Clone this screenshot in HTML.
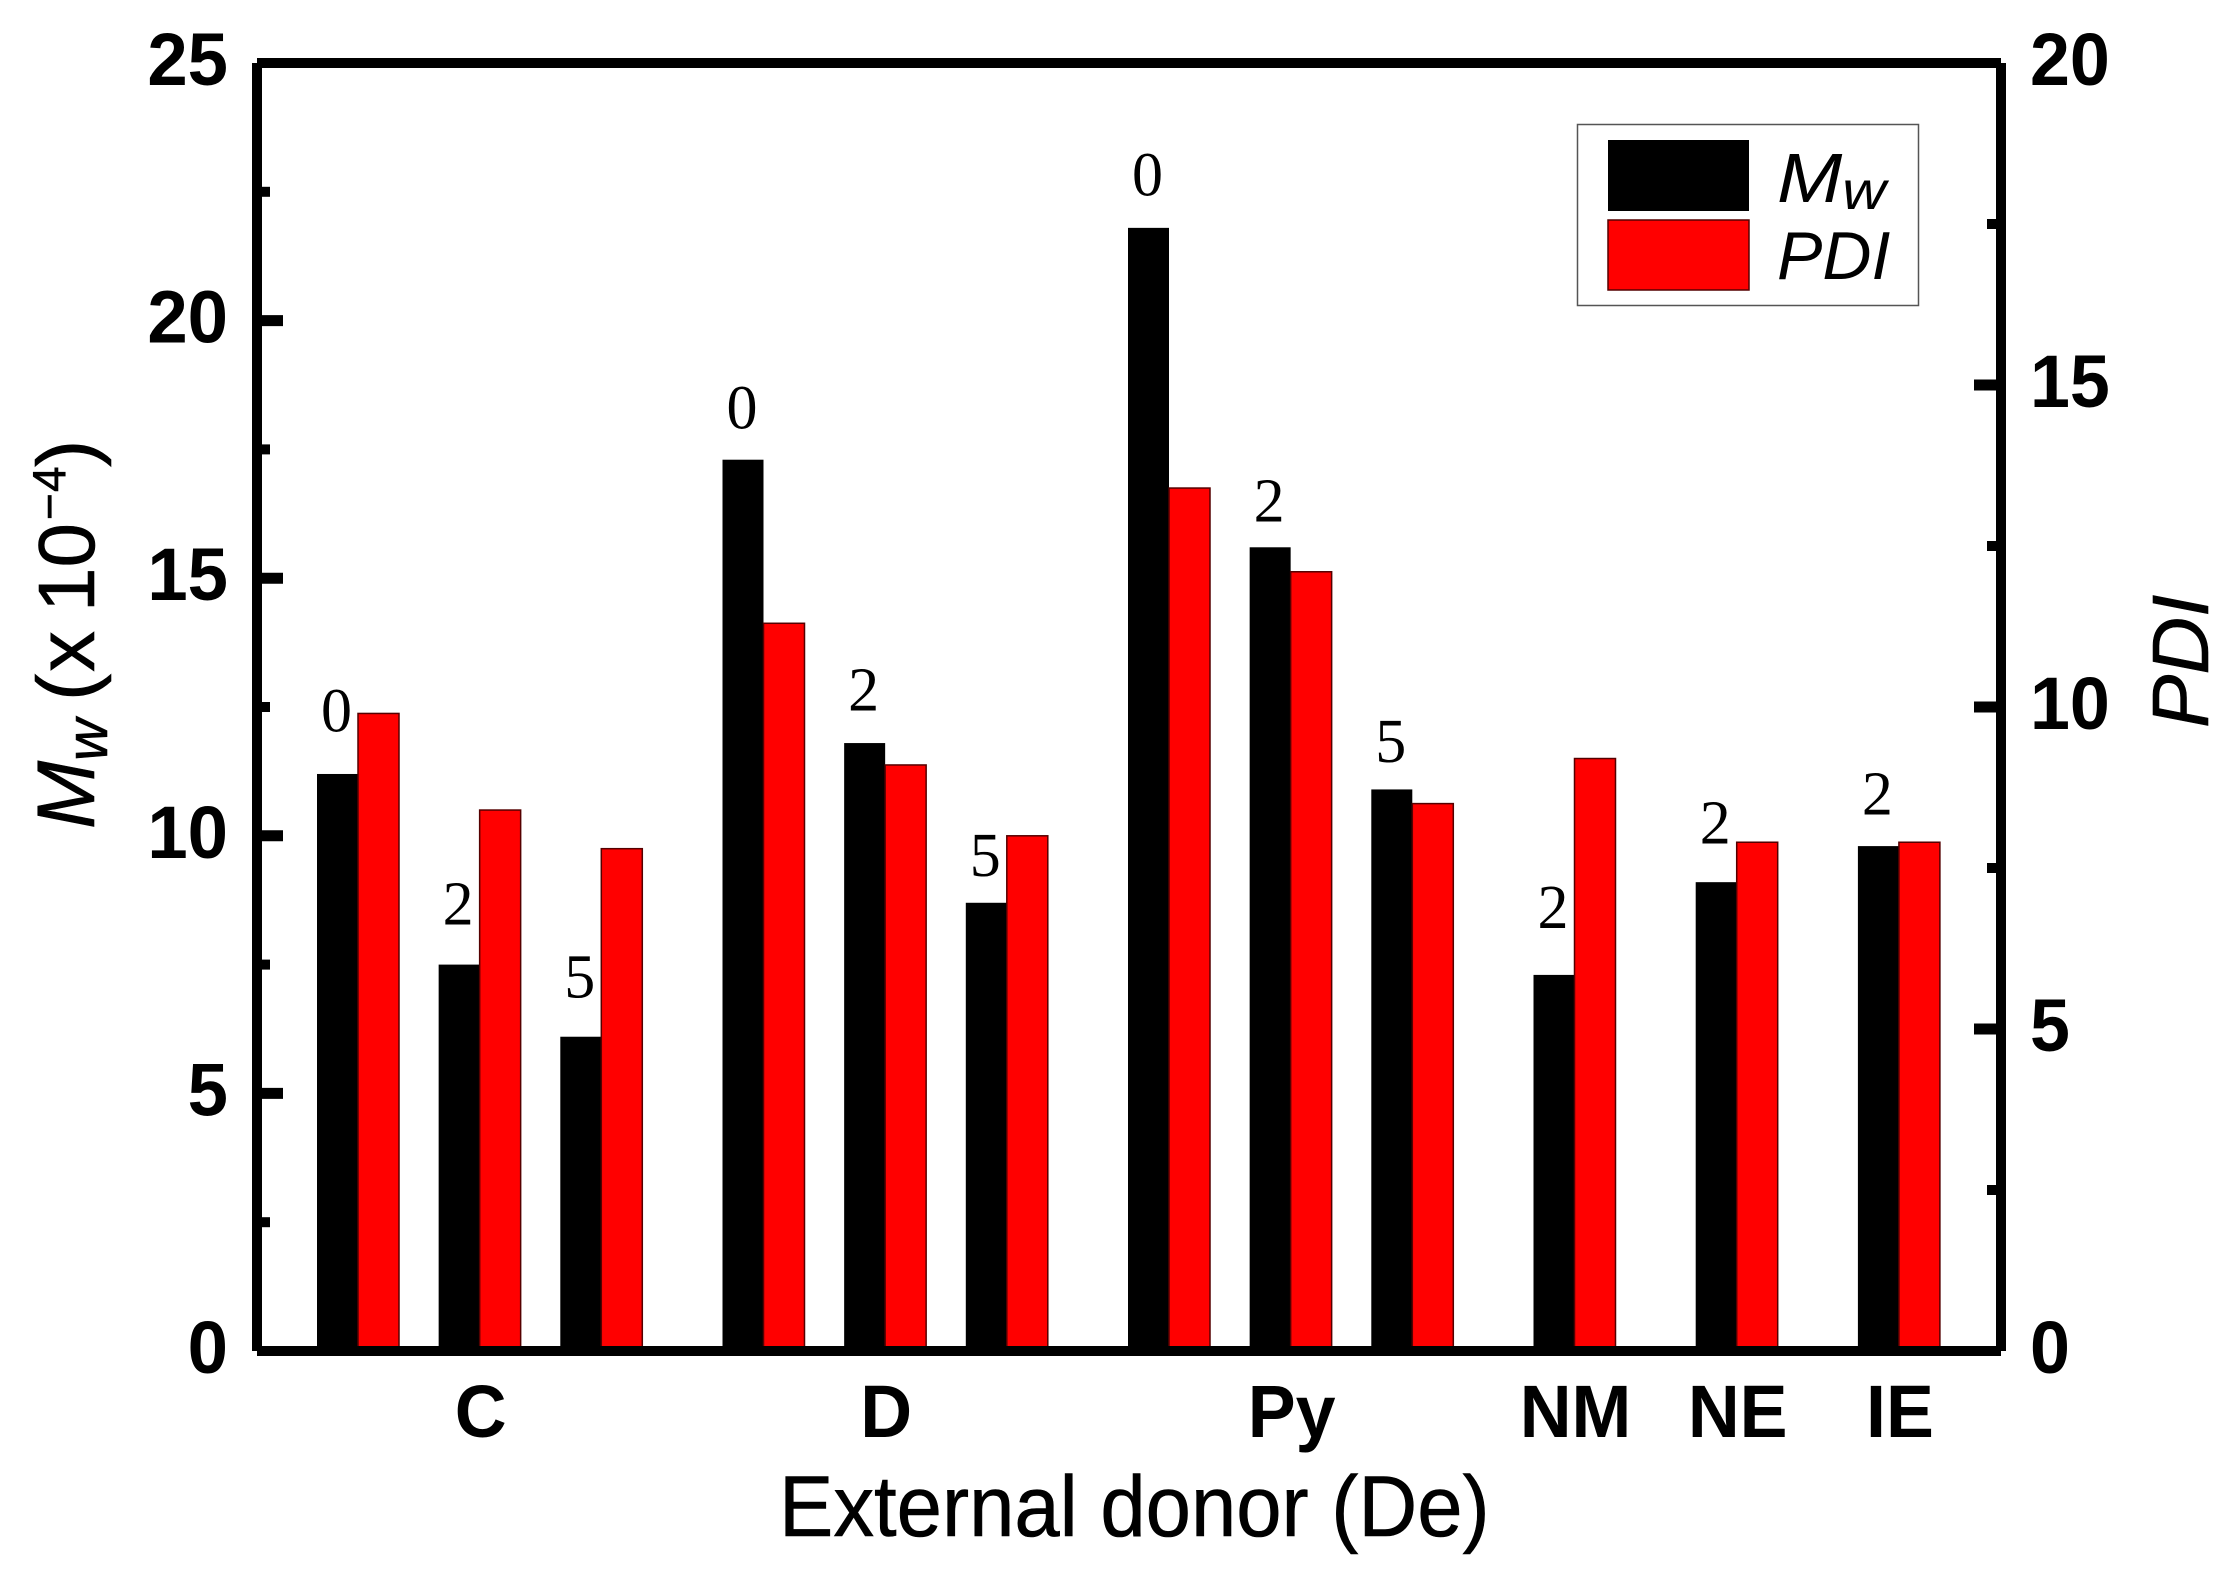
<!DOCTYPE html>
<html lang="en">
<head>
<meta charset="utf-8">
<title>Mw and PDI by external donor</title>
<style>
html,body{margin:0;padding:0;background:#fff;}
svg{display:block;}
text{fill:#000;font-family:"Liberation Sans",sans-serif;}
.tick{font-weight:bold;font-size:74px;}
.cat{font-weight:bold;font-size:74px;}
.note{font-family:"Liberation Serif",serif;font-size:62px;}
.title{stroke:#000;stroke-width:0.6px;}
</style>
</head>
<body>
<svg id="chart" xmlns="http://www.w3.org/2000/svg" width="2240" height="1583" viewBox="0 0 2240 1583">
  <rect x="0" y="0" width="2240" height="1583" fill="#fff"/>
  <g id="bars"></g>
  <g id="notes"></g>
  <g id="axes"></g>
  <g id="labels"></g>

  <text class="title" transform="translate(779,1536) scale(0.947,1)" font-size="86">External donor (De)</text>

  <text class="title" transform="translate(94,831) rotate(-90)" font-size="80"><tspan x="2" font-style="italic" font-size="82">M</tspan><tspan x="70" dy="13" font-style="italic" font-size="58">w</tspan><tspan x="130" dy="-13" font-size="82">(</tspan><tspan x="159" font-size="82">x</tspan><tspan x="219">10</tspan><tspan x="311" dy="-29" font-size="46">−</tspan><tspan x="339" font-size="46">4</tspan><tspan x="364" dy="29" font-size="82">)</tspan></text>

  <text class="title" transform="translate(2208,728) rotate(-90)" font-size="80" font-style="italic">PDI</text>

  <g>
    <rect x="1577.5" y="124.5" width="341" height="181" fill="#fff" stroke="#555" stroke-width="1.5"/>
    <rect x="1608" y="140" width="141" height="71" fill="#000"/>
    <rect x="1608" y="220" width="141" height="70" fill="#f00" stroke="#500" stroke-width="1.5"/>
    <text transform="translate(1777,202) scale(1.12,1)" font-size="70" font-style="italic">M<tspan dy="7" font-size="54">w</tspan></text>
    <text transform="translate(1777,279)" font-size="68" font-style="italic">PDI</text>
  </g>
</svg>
<script>
// ---- chart data ----
const barGroups = ["C","C","C","D","D","D","Py","Py","Py","NM","NE","IE"];
const doses = [0,2,5,0,2,5,0,2,5,2,2,2];
const mwValues = [11.2,7.5,6.1,17.3,11.8,8.7,21.8,15.6,10.9,7.3,9.1,9.8];
const pdiValues = [9.9,8.4,7.8,11.3,9.1,8.0,13.4,12.1,8.5,9.2,7.9,7.9];
// how far each dose label floats above its black bar, in Mw units
const doseLift = [0.82,0.78,0.76,0.61,0.63,0.52,0.63,0.50,0.53,0.91,0.75,0.61];
const mwMajorTicks = [0,5,10,15,20,25];
const mwMinorTicks = [2.5,7.5,12.5,17.5,22.5];
const pdiMajorTicks = [0,5,10,15,20];
const pdiMinorTicks = [2.5,7.5,12.5,17.5];

// ---- axis functions ----
const SVGNS = "http://www.w3.org/2000/svg";
const plot = {left:257, right:2001, top:63, bottom:1351};
const mwMax = 25, pdiMax = 20;
const slotWidth = 40.55, firstBoundary = 358, barWidth = 41;
function yMw(v){ return plot.bottom - (v / mwMax) * (plot.bottom - plot.top); }
function yPdi(v){ return plot.bottom - (v / pdiMax) * (plot.bottom - plot.top); }
function slots(){
  const out = [];
  let s = 0;
  barGroups.forEach(function(g, i){
    if (i > 0) s += (g === barGroups[i-1]) ? 3 : 4;
    out.push(s);
  });
  return out;
}
function xBar(slot){ return firstBoundary + slot * slotWidth; }

function make(tag, attrs, parent){
  const el = document.createElementNS(SVGNS, tag);
  Object.keys(attrs).forEach(function(k){ el.setAttribute(k, attrs[k]); });
  parent.appendChild(el);
  return el;
}
function squeezed(x, y, str, cls, anchor, parent, sx){
  const el = make("text", {transform:"translate("+x+","+y+") scale("+sx+",1)", "class":cls, "text-anchor":anchor}, parent);
  el.textContent = str;
  return el;
}

const barsG = document.getElementById("bars");
const notesG = document.getElementById("notes");
const axesG = document.getElementById("axes");
const labelsG = document.getElementById("labels");
const slotList = slots();

// ---- bars and dose labels ----
barGroups.forEach(function(group, i){
  const bx = xBar(slotList[i]);
  const mwTop = yMw(mwValues[i]);
  const pdiTop = yPdi(pdiValues[i]);
  const black = make("rect", {x:bx-barWidth, y:mwTop, width:barWidth, height:plot.bottom-mwTop, fill:"#000"}, barsG);
  
  
  const red = make("rect", {x:bx, y:pdiTop, width:barWidth, height:plot.bottom-pdiTop, fill:"#f00", stroke:"#500", "stroke-width":1.5}, barsG);
  
  
  const note = make("text", {x:bx-barWidth/2-1, y:yMw(mwValues[i]+doseLift[i]), "class":"note", "text-anchor":"middle"}, notesG);
  note.textContent = doses[i];
  
  
});

// ---- axis frame ----
const thick = 10;
const frameTop = make("line", {x1:plot.left, x2:plot.right, y1:plot.top, y2:plot.top, stroke:"#000", "stroke-width":thick}, axesG);


const frameBottom = make("line", {x1:plot.left, x2:plot.right, y1:plot.bottom, y2:plot.bottom, stroke:"#000", "stroke-width":thick}, axesG);


const frameLeft = make("line", {x1:plot.left, x2:plot.left, y1:plot.top, y2:plot.bottom, stroke:"#000", "stroke-width":thick}, axesG);


const frameRight = make("line", {x1:plot.right, x2:plot.right, y1:plot.top, y2:plot.bottom, stroke:"#000", "stroke-width":thick}, axesG);



// ---- left axis ticks ----
mwMajorTicks.forEach(function(v){
  const edge = (v === 0 || v === mwMax);
  const t = make("line", {x1:plot.left, x2:283, y1:yMw(v), y2:yMw(v), stroke:"#000", "stroke-width":edge ? 10 : 11}, axesG);
  
  
  const l = squeezed(228, yMw(v)+22, String(v), "tick", "end", labelsG, 0.98);
  
  
});
mwMinorTicks.forEach(function(v){
  const t = make("line", {x1:plot.left, x2:270, y1:yMw(v), y2:yMw(v), stroke:"#000", "stroke-width":10}, axesG);
  
  
});

// ---- right axis ticks ----
pdiMajorTicks.forEach(function(v){
  const edge = (v === 0 || v === pdiMax);
  const t = make("line", {x1:1974, x2:plot.right, y1:yPdi(v), y2:yPdi(v), stroke:"#000", "stroke-width":edge ? 10 : 11}, axesG);
  
  
  const l = squeezed(2030, yPdi(v)+22, String(v), "tick", "start", labelsG, 0.97);
  
  
});
pdiMinorTicks.forEach(function(v){
  const t = make("line", {x1:1987, x2:plot.right, y1:yPdi(v), y2:yPdi(v), stroke:"#000", "stroke-width":10}, axesG);
  
  
});

// ---- category labels, centred under each group ----
barGroups.filter(function(g, i){ return barGroups.indexOf(g) === i; }).forEach(function(group){
  const members = slotList.filter(function(s, i){ return barGroups[i] === group; });
  const mean = members.reduce(function(a, b){ return a + b; }, 0) / members.length;
  const c = squeezed(xBar(mean)+1, 1437, group, "cat", "middle", labelsG, 0.97);
  
  
});
</script>
</body>
</html>
